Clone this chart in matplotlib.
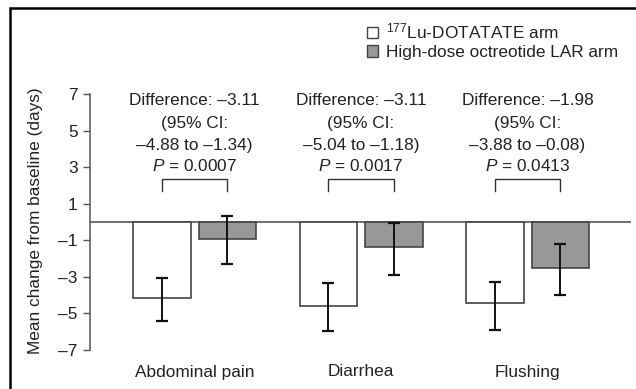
import matplotlib.pyplot as plt
import numpy as np
from matplotlib.patches import Patch, Rectangle

plt.rcParams['font.family'] = 'Liberation Sans'
plt.rcParams['mathtext.fontset'] = 'custom'
plt.rcParams['mathtext.rm'] = 'Liberation Sans'
plt.rcParams['mathtext.it'] = 'Liberation Sans:italic'

categories = ['Abdominal pain', 'Diarrhea', 'Flushing']
lu_mean = [-4.15, -4.58, -4.46]
lu_low = [-5.41, -5.95, -5.90]
lu_high = [-3.05, -3.32, -3.27]
lar_mean = [-0.95, -1.35, -2.52]
lar_low = [-2.28, -2.88, -4.00]
lar_high = [0.35, -0.07, -1.19]
diff_text = ['Difference: \u20133.11', 'Difference: \u20133.11', 'Difference: \u20131.98']
ci_text = ['\u20134.88 to \u20131.34)', '\u20135.04 to \u20131.18)', '\u20133.88 to \u20130.08)']
p_text = ['0.0007', '0.0017', '0.0413']
yticks = [7, 5, 3, 1, -1, -3, -5, -7]

W, H = 636, 389
fig = plt.figure(figsize=(W / 100, H / 100), dpi=100)
# axes: x 90..631 px, y 10..352 px
ax = fig.add_axes([90 / W, 1 - 352 / H, (631 - 90) / W, 342 / H])
ppu = 18.25
ax.set_ylim(-(352 - 222) / ppu, (222 - 10) / ppu)
sp = 166.5
ax.set_xlim((90 - 194.5) / sp, (631 - 194.5) / sp)

ind = np.arange(len(categories))
width = 57.5 / sp
off = 32.75 / sp
edge = '#444444'
txt = '#222222'
fs = 12.4

lu = np.array(lu_mean)
lar = np.array(lar_mean)
ax.bar(ind - off, lu, width, color='white', edgecolor=edge, linewidth=1.2, zorder=2)
ax.bar(ind + off, lar, width, color='#989898', edgecolor=edge, linewidth=1.2, zorder=2)
ax.errorbar(ind - off, lu, yerr=[lu - np.array(lu_low), np.array(lu_high) - lu],
            fmt='none', ecolor='#111111', elinewidth=1.4, capsize=4, capthick=1.6, zorder=3)
ax.errorbar(ind + off, lar, yerr=[lar - np.array(lar_low), np.array(lar_high) - lar],
            fmt='none', ecolor='#111111', elinewidth=1.4, capsize=4, capthick=1.6, zorder=3)
ax.axhline(0, color='#555555', lw=1.2, zorder=1)

for s in ['top', 'right', 'bottom']:
    ax.spines[s].set_visible(False)
ax.spines['left'].set_bounds(-7, 7)
ax.spines['left'].set_color('#555555')
ax.spines['left'].set_linewidth(1.1)
ax.set_yticks(yticks)
ax.set_yticklabels([str(v).replace('-', '\u2013') for v in yticks])
ax.tick_params(axis='y', length=5, width=1, color='#555555', labelsize=fs,
               labelcolor=txt, pad=4)
ax.set_xticks(ind)
ax.set_xticklabels(categories)
ax.tick_params(axis='x', length=0, labelsize=fs, labelcolor=txt, pad=9)

for i in ind:
    ax.text(i, (222 - 101) / ppu, diff_text[i], ha='center', va='center', fontsize=fs, color=txt)
    ax.text(i, (222 - 124) / ppu, '(95% CI:', ha='center', va='center', fontsize=fs, color=txt)
    ax.text(i, (222 - 146) / ppu, ci_text[i], ha='center', va='center', fontsize=fs, color=txt)
    ax.text(i, (222 - 166) / ppu, '$P$ = ' + p_text[i], ha='center', va='center', fontsize=fs, color=txt)
    ax.plot([i - off, i - off, i + off, i + off], [1.70, 2.36, 2.36, 1.70],
            color='#333333', lw=1)

handles = [Patch(facecolor='white', edgecolor=edge, lw=1),
           Patch(facecolor='#989898', edgecolor=edge, lw=1)]
labels = ['$^{177}$Lu-DOTATATE arm', 'High-dose octreotide LAR arm']
fig.legend(handles, labels, loc='upper left', bbox_to_anchor=(360 / W, 1 - 15 / H),
           frameon=False, fontsize=fs, handlelength=0.65, handleheight=0.65,
           handletextpad=0.45, labelspacing=0.2, borderaxespad=0, labelcolor=txt)

fig.text(36 / W, 1 - 221 / H, 'Mean change from baseline (days)', rotation=90,
         ha='center', va='center', fontsize=fs, color=txt)

fig.add_artist(Rectangle((10 / W, -0.1), 1.2, 1 - 8 / H + 0.1, transform=fig.transFigure,
                         fill=False, edgecolor='black', lw=1.8))

fig.savefig('out.png', dpi=100)
